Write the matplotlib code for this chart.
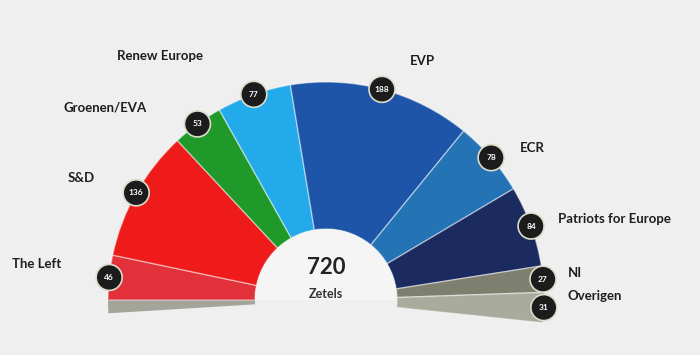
import matplotlib.pyplot as plt
from matplotlib.patches import Wedge, Circle

# zetelverdeling Europees Parlement
partijen = ["The Left", "S&D", "Groenen/EVA", "Renew Europe", "EVP", "ECR",
            "Patriots for Europe", "NI", "Overigen"]
zetels = [46, 136, 53, 77, 188, 78, 84, 27, 31]
kleuren = ["#e2313a", "#ef1b1b", "#1f9a2a", "#23aaea", "#1f55a8", "#2373b5",
           "#1b2b60", "#7e806f", "#a9ab9d"]
totaal = sum(zetels)

# label posities (pixels, links-midden)
label_pos = [(12, 264), (68, 178), (64, 108), (117, 56), (410, 61), (520, 148),
             (558, 219), (568, 273), (568, 296)]

W, H = 700, 355
fig = plt.figure(figsize=(7, 3.55), dpi=100)
fig.patch.set_facecolor("#efefef")
ax = fig.add_axes([0, 0, 1, 1])
ax.set_xlim(0, W)
ax.set_ylim(0, H)
ax.set_aspect("equal")
ax.axis("off")

cx, cy = 326, H - 300
r_out, r_in = 218, 71
span = 186.0
start = 180.0

# grijze rand links onder
ax.add_patch(Wedge((cx, cy), r_out, 180, 183.5, width=r_out - r_in,
                   facecolor="#a3a59b", edgecolor="none"))

hoek = start
middens = []
for n, kl in zip(zetels, kleuren):
    d = n / totaal * span
    ax.add_patch(Wedge((cx, cy), r_out, hoek - d, hoek, width=r_out - r_in,
                       facecolor=kl, edgecolor=(1, 1, 1, 0.45), lw=1))
    middens.append(hoek - d / 2)
    hoek -= d

ax.add_patch(Wedge((cx, cy), r_in, 0, 180, facecolor="#f5f5f5", edgecolor="none"))

import numpy as np
for n, m in zip(zetels, middens):
    x = cx + r_out * np.cos(np.radians(m))
    y = cy + r_out * np.sin(np.radians(m))
    ax.add_patch(Circle((x, y), 13, facecolor="#1c1c1c", edgecolor="#dcdccc", lw=1.2, zorder=5))
    ax.text(x, y, str(n), color="white", fontsize=6, fontweight="bold",
            ha="center", va="center", family="Lato", zorder=6)

for naam, (lx, ly) in zip(partijen, label_pos):
    ax.text(lx, H - ly, naam, fontsize=9.5, fontweight="bold", color="#1e1e1e",
            ha="left", va="center", family="Lato")

ax.text(cx, H - 267, str(totaal), fontsize=16, fontweight="bold", color="#222222",
        ha="center", va="center", family="Lato")
ax.text(cx, H - 294, "Zetels", fontsize=9, fontweight="bold", color="#333333",
        ha="center", va="center", family="Lato")

fig.savefig("out.png", dpi=100, facecolor=fig.get_facecolor())
